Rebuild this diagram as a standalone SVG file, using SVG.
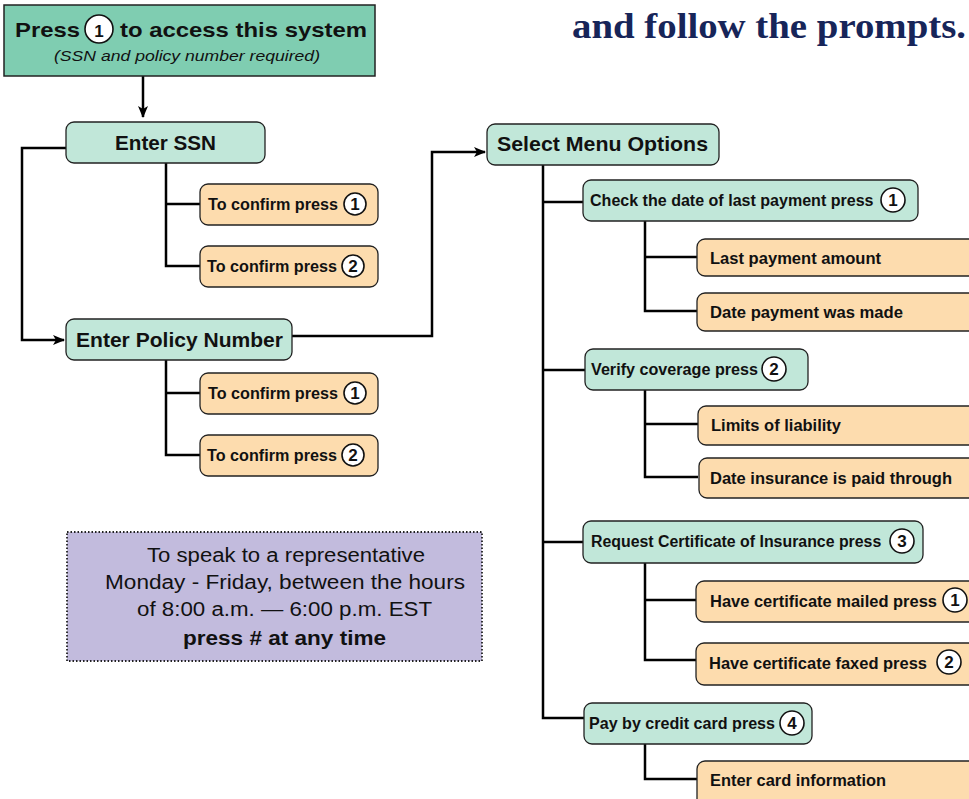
<svg xmlns="http://www.w3.org/2000/svg" width="969" height="799" viewBox="0 0 969 799">
<defs>
<marker id="ah" viewBox="0 0 12 10" refX="11" refY="5" markerWidth="12" markerHeight="10" markerUnits="userSpaceOnUse" orient="auto">
<path d="M0,0 L12,5 L0,10 L3,5 Z" fill="#000"/>
</marker>
</defs>
<style>
.g{fill:#c1e7d9;stroke:#222;stroke-width:1.3}
.o{fill:#fddcae;stroke:#222;stroke-width:1.3}
.big{font-family:"Liberation Sans",Arial,sans-serif;font-weight:bold;font-size:21px;fill:#111}
.c{font-family:"Liberation Sans",Arial,sans-serif;font-weight:bold;font-size:17px;fill:#111}
.num{font-family:"Liberation Sans",Arial,sans-serif;font-weight:bold;font-size:17px;fill:#111;text-anchor:middle}
.circ{fill:#fff;stroke:#111;stroke-width:1.6}
.ln{fill:none;stroke:#000;stroke-width:2.5}
.rep{font-family:"Liberation Sans",Arial,sans-serif;font-size:20px;fill:#111}
</style>
<rect width="969" height="799" fill="#fff"/>
<text x="572" y="38" font-family="'Liberation Serif','Times New Roman',serif" font-weight="bold" font-size="36" fill="#172559" textLength="394" lengthAdjust="spacingAndGlyphs">and follow the prompts.</text>

<g id="connectors">
<path class="ln" d="M143,76 V117" marker-end="url(#ah)"/>
<path class="ln" d="M66,148 H22 V340 H64" marker-end="url(#ah)"/>
<path class="ln" d="M166,163 V266 H200 M166,204 H200"/>
<path class="ln" d="M166,360 V455 H200 M166,393 H200"/>
<path class="ln" d="M292,336 H432 V152 H485" marker-end="url(#ah)"/>
<path class="ln" d="M543,165 V718 H584 M543,202 H583 M543,370 H585 M543,542 H583"/>
<path class="ln" d="M645,221 V311 H697 M645,257 H697"/>
<path class="ln" d="M645,390 V477 H698 M645,424 H698"/>
<path class="ln" d="M645,563 V660 H696 M645,600 H696"/>
<path class="ln" d="M645,744 V779 H697"/>
</g>

<g id="start">
<rect x="4" y="5" width="371" height="71" fill="#7fcdb1" stroke="#222" stroke-width="1.5"/>
<text x="15" y="37" class="big" font-size="23" textLength="65" lengthAdjust="spacingAndGlyphs">Press</text>
<circle cx="99" cy="29" r="14" class="circ" stroke-width="2"/>
<text x="99" y="37" class="num" font-size="21">1</text>
<text x="120" y="37" class="big" font-size="23" textLength="247" lengthAdjust="spacingAndGlyphs">to access this system</text>
<text x="54" y="61" font-family="'Liberation Sans',Arial,sans-serif" font-style="italic" font-size="15" fill="#111" textLength="266" lengthAdjust="spacingAndGlyphs">(SSN and policy number required)</text>
</g>

<g id="ssn">
<rect x="66" y="122" width="199" height="41" rx="8" class="g"/>
<text x="115" y="150" class="big" textLength="101" lengthAdjust="spacingAndGlyphs">Enter SSN</text>
</g>
<g id="ssn1">
<rect x="200" y="184" width="178" height="41" rx="8" class="o"/>
<text x="208" y="210" class="c" textLength="130" lengthAdjust="spacingAndGlyphs">To confirm press</text>
<circle cx="355" cy="204" r="11" class="circ"/><text x="355" y="210" class="num">1</text>
</g>
<g id="ssn2">
<rect x="200" y="246" width="178" height="41" rx="8" class="o"/>
<text x="207" y="272" class="c" textLength="130" lengthAdjust="spacingAndGlyphs">To confirm press</text>
<circle cx="353" cy="266" r="11" class="circ"/><text x="353" y="272" class="num">2</text>
</g>

<g id="policy">
<rect x="66" y="319" width="226" height="41" rx="8" class="g"/>
<text x="76" y="347" class="big" textLength="207" lengthAdjust="spacingAndGlyphs">Enter Policy Number</text>
</g>
<g id="pol1">
<rect x="200" y="373" width="178" height="41" rx="8" class="o"/>
<text x="208" y="399" class="c" textLength="130" lengthAdjust="spacingAndGlyphs">To confirm press</text>
<circle cx="355" cy="393" r="11" class="circ"/><text x="355" y="399" class="num">1</text>
</g>
<g id="pol2">
<rect x="200" y="435" width="178" height="41" rx="8" class="o"/>
<text x="207" y="461" class="c" textLength="130" lengthAdjust="spacingAndGlyphs">To confirm press</text>
<circle cx="353" cy="455" r="11" class="circ"/><text x="353" y="461" class="num">2</text>
</g>

<g id="rep">
<rect x="67" y="532" width="415" height="129" fill="#c2bbdd" stroke="#222" stroke-width="1.8" stroke-dasharray="1.5 2"/>
<text x="147" y="562" class="rep" textLength="278" lengthAdjust="spacingAndGlyphs">To speak to a representative</text>
<text x="105" y="589" class="rep" textLength="360" lengthAdjust="spacingAndGlyphs">Monday - Friday, between the hours</text>
<text x="137" y="616" class="rep" textLength="295" lengthAdjust="spacingAndGlyphs">of 8:00 a.m. — 6:00 p.m. EST</text>
<text x="183" y="645" class="rep" font-weight="bold" textLength="203" lengthAdjust="spacingAndGlyphs">press # at any time</text>
</g>

<g id="menu">
<rect x="487" y="124" width="232" height="41" rx="8" class="g"/>
<text x="497" y="151" class="big" textLength="211" lengthAdjust="spacingAndGlyphs">Select Menu Options</text>
</g>

<g id="opt1">
<rect x="583" y="180" width="335" height="41" rx="8" class="g"/>
<text transform="translate(590,206) scale(0.945,1)" class="c">Check the date of last payment press</text>
<circle cx="893" cy="200" r="12" class="circ"/><text x="893" y="206" class="num">1</text>
</g>
<g id="opt1a">
<rect x="697" y="239" width="290" height="37" rx="8" class="o"/>
<text x="710" y="264" class="c" textLength="171" lengthAdjust="spacingAndGlyphs">Last payment amount</text>
</g>
<g id="opt1b">
<rect x="697" y="293" width="290" height="38" rx="8" class="o"/>
<text x="710" y="318" class="c" textLength="193" lengthAdjust="spacingAndGlyphs">Date payment was made</text>
</g>

<g id="opt2">
<rect x="585" y="349" width="223" height="41" rx="8" class="g"/>
<text x="591" y="375" class="c" textLength="167" lengthAdjust="spacingAndGlyphs">Verify coverage press</text>
<circle cx="774" cy="369" r="12" class="circ"/><text x="774" y="375" class="num">2</text>
</g>
<g id="opt2a">
<rect x="698" y="406" width="290" height="39" rx="8" class="o"/>
<text x="711" y="431" class="c" textLength="130" lengthAdjust="spacingAndGlyphs">Limits of liability</text>
</g>
<g id="opt2b">
<rect x="699" y="458" width="290" height="40" rx="8" class="o"/>
<text x="710" y="484" class="c" textLength="242" lengthAdjust="spacingAndGlyphs">Date insurance is paid through</text>
</g>

<g id="opt3">
<rect x="583" y="521" width="340" height="42" rx="8" class="g"/>
<text transform="translate(591,547) scale(0.935,1)" class="c">Request Certificate of Insurance press</text>
<circle cx="902" cy="541" r="12" class="circ"/><text x="902" y="547" class="num">3</text>
</g>
<g id="opt3a">
<rect x="696" y="581" width="290" height="41" rx="8" class="o"/>
<text x="710" y="607" class="c" textLength="227" lengthAdjust="spacingAndGlyphs">Have certificate mailed press</text>
<circle cx="955" cy="600" r="12" class="circ"/><text x="955" y="606" class="num">1</text>
</g>
<g id="opt3b">
<rect x="696" y="643" width="290" height="42" rx="8" class="o"/>
<text x="709" y="669" class="c" textLength="218" lengthAdjust="spacingAndGlyphs">Have certificate faxed press</text>
<circle cx="949" cy="662" r="12" class="circ"/><text x="949" y="668" class="num">2</text>
</g>

<g id="opt4">
<rect x="584" y="703" width="228" height="41" rx="8" class="g"/>
<text x="589" y="729" class="c" textLength="186" lengthAdjust="spacingAndGlyphs">Pay by credit card press</text>
<circle cx="792" cy="723" r="12" class="circ"/><text x="792" y="729" class="num">4</text>
</g>
<g id="opt4a">
<rect x="697" y="761" width="290" height="50" rx="8" class="o"/>
<text x="710" y="786" class="c" textLength="176" lengthAdjust="spacingAndGlyphs">Enter card information</text>
</g>
</svg>
